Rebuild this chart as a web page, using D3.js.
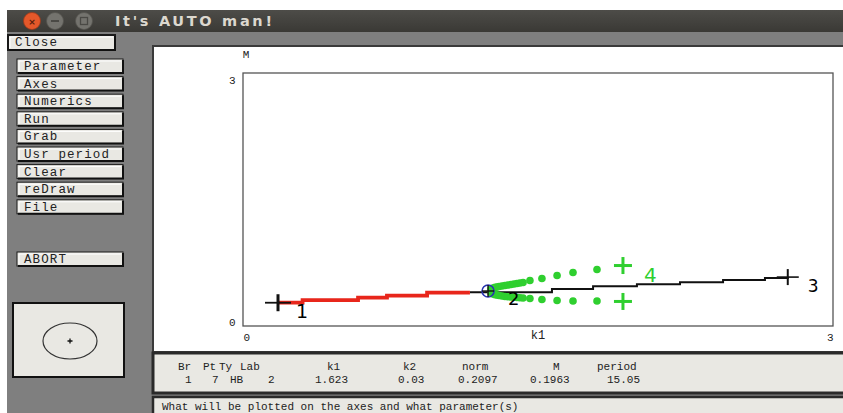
<!DOCTYPE html>
<html><head><meta charset="utf-8">
<script src="https://cdn.jsdelivr.net/npm/d3@7"></script>
<style>body{margin:0;background:#fff;overflow:hidden} svg{display:block}</style>
</head><body><svg id="c" width="843" height="413"></svg>
<script>
// ---------- data ----------
const windowTitle = "It's AUTO man!";
const menuButtons = ["Parameter","Axes","Numerics","Run","Grab","Usr period","Clear","reDraw","File"];
const xLabel = "k1", yLabel = "M";
const xTicks = [0, 3];
const yTicks = [0, 3];
// stable steady-state branch (red), k1 vs M
const redBranch = [[0.178,0.276],[0.303,0.308],[0.585,0.336],[0.732,0.359],[0.936,0.395],[1.154,0.395]];
// unstable steady-state branch (black)
const blackBranch = [[1.154,0.40],[1.571,0.44],[1.780,0.47],[2.003,0.495],[2.222,0.52],[2.441,0.545],[2.654,0.57],[2.77,0.58]];
// periodic orbit branch (green): max and min of M
const periodicK1    = [1.262,1.271,1.282,1.292,1.302,1.317,1.332,1.347,1.363,1.378,1.393,1.408,1.424,1.459,1.520,1.597,1.678,1.800];
const periodicUpper = [0.440,0.451,0.458,0.463,0.468,0.474,0.480,0.486,0.492,0.498,0.504,0.510,0.516,0.540,0.563,0.599,0.634,0.670];
const periodicLower = [0.390,0.379,0.372,0.367,0.362,0.356,0.350,0.347,0.344,0.341,0.338,0.335,0.332,0.326,0.314,0.302,0.296,0.296];
// labelled points
const labK1 = [0.178, 1.246, 2.77, 1.932];
const labM  = [0.276, 0.415, 0.58, 0.717];
const labM2 = [null, null, null, 0.291];
const labNames = ["1","2","3","4"];
const labTypes = ["EP","HB","EP","PO"];
// info panel
const infoHeaders = ["Br","Pt","Ty","Lab","k1","k2","norm","M","period"];
const infoValues  = ["1","7","HB","2","1.623","0.03","0.2097","0.1963","15.05"];
const statusText = "What will be plotted on the axes and what parameter(s)";

// ---------- drawing ----------
const svg = d3.select("#c");
const mono = "'Liberation Mono','DejaVu Sans Mono',monospace";
const LIGHT = "#e9e8e3";

// body background
svg.append("rect").attr("x",7).attr("y",10).attr("width",836).attr("height",403).attr("fill","#7f7f7f");

// title bar
const defs = svg.append("defs");
const tg = defs.append("linearGradient").attr("id","tb").attr("x1",0).attr("x2",0).attr("y1",0).attr("y2",1);
tg.append("stop").attr("offset","0").attr("stop-color","#4d4c48");
tg.append("stop").attr("offset","1").attr("stop-color","#3a3935");
svg.append("rect").attr("x",7).attr("y",10).attr("width",836).attr("height",22).attr("fill","url(#tb)");
svg.append("circle").attr("cx",32).attr("cy",21).attr("r",8.5).attr("fill","#e5582a").attr("stroke","#9c3a1c").attr("stroke-width",0.8);
svg.append("text").attr("x",32).attr("y",24.5).attr("text-anchor","middle").attr("font-family","DejaVu Sans").attr("font-weight","bold").attr("font-size",9).attr("fill","#5a1d0a").text("×");
[55,84].forEach((cx,i)=>{
  svg.append("circle").attr("cx",cx).attr("cy",21).attr("r",8.5).attr("fill","#74736e").attr("stroke","#55544f").attr("stroke-width",0.8);
  if(i===0) svg.append("rect").attr("x",cx-4).attr("y",20).attr("width",8).attr("height",2).attr("fill","#4a4945");
  else svg.append("rect").attr("x",cx-3.5).attr("y",17.5).attr("width",7).attr("height",7).attr("fill","none").attr("stroke","#4a4945").attr("stroke-width",1.3);
});
svg.append("text").attr("x",115).attr("y",26).attr("font-family","'DejaVu Sans',sans-serif").attr("font-weight","bold")
  .attr("font-size",14.5).attr("fill","#dcd8cf").attr("textLength",157).attr("lengthAdjust","spacing").text(windowTitle);

// buttons
function button(x,y,w,h,label,thick){
  const g = svg.append("g");
  g.append("rect").attr("x",x).attr("y",y).attr("width",w).attr("height",h).attr("fill",LIGHT)
    .attr("stroke","#1a1a1a").attr("stroke-width",thick?2:1);
  g.append("path").attr("d",`M${x+1},${y+h}H${x+w}V${y+1}`).attr("fill","none").attr("stroke","#111").attr("stroke-width",2);
  g.append("path").attr("d",`M${x+2},${y+h-2}V${y+2}H${x+w-2}`).attr("fill","none").attr("stroke","#ffffff").attr("stroke-width",1);
  g.append("text").attr("x",x+7).attr("y",y+11).attr("font-family",mono).attr("font-size",12.5)
    .attr("letter-spacing",1.1).attr("fill","#222").text(label);
}
button(8,35,107,15,"Close",true);
menuButtons.forEach((b,i)=>button(17,59+i*17.6,106,14,b,false));
button(17,252,106,14,"ABORT",false);

// small picture box
svg.append("rect").attr("x",13).attr("y",303).attr("width",111).attr("height",74).attr("fill",LIGHT).attr("stroke","#111").attr("stroke-width",2);
svg.append("ellipse").attr("cx",70).attr("cy",341).attr("rx",27).attr("ry",18).attr("fill","none").attr("stroke","#333").attr("stroke-width",1.2);
svg.append("path").attr("d","M67.5,341H72.5M70,338.5V343.5").attr("stroke","#111").attr("stroke-width",1.3);

// plot window
svg.append("rect").attr("x",153).attr("y",46).attr("width",692).attr("height",306).attr("fill","#fff").attr("stroke","#3a3a3a").attr("stroke-width",2);

const x = d3.scaleLinear().domain([0,3]).range([243,833]);
const y = d3.scaleLinear().domain([0,3]).range([326,73]);

svg.append("rect").attr("x",x(0)).attr("y",y(3)).attr("width",x(3)-x(0)).attr("height",y(0)-y(3))
  .attr("fill","none").attr("stroke","#555").attr("stroke-width",1.3);

// axes (labels only)
const xa = svg.append("g").attr("transform",`translate(0,${y(0)})`)
  .call(d3.axisBottom(x).tickValues(xTicks).tickSize(0).tickFormat(d3.format("d")));
xa.select(".domain").remove();
xa.selectAll("text").attr("font-family",mono).attr("font-size",11).attr("fill","#222").attr("dy","1.1em")
  .attr("text-anchor",(d,i)=> i===0 ? "start" : "end");
const ya = svg.append("g").attr("transform",`translate(${x(0)},0)`)
  .call(d3.axisLeft(y).tickValues(yTicks).tickSize(0).tickFormat(d3.format("d")));
ya.select(".domain").remove();
ya.selectAll("text").attr("font-family",mono).attr("font-size",11).attr("fill","#222").attr("dx","-0.4em")
  .attr("dy",(d)=> d===3 ? "0.95em" : "-0.05em");
svg.append("text").attr("x",(x(0)+x(3))/2).attr("y",y(0)+13).attr("font-family",mono).attr("font-size",12)
  .attr("fill","#222").attr("text-anchor","middle").text(xLabel);
svg.append("text").attr("x",x(0)+3).attr("y",y(3)-15).attr("font-family",mono).attr("font-size",11)
  .attr("fill","#222").attr("text-anchor","middle").text(yLabel);

const step = d3.line().x(d=>x(d[0])).y(d=>y(d[1])).curve(d3.curveStepAfter);
svg.append("path").attr("d",step(blackBranch)).attr("fill","none").attr("stroke","#111").attr("stroke-width",2);
svg.append("path").attr("d",step(redBranch)).attr("fill","none").attr("stroke","#e8261b").attr("stroke-width",3.8);

// periodic orbits
const GREEN = "#2fcf2f";
const pts = periodicK1.map((k,i)=>[k,periodicUpper[i]]).concat(periodicK1.map((k,i)=>[k,periodicLower[i]]));
svg.append("g").selectAll("circle").data(pts).join("circle")
  .attr("cx",d=>x(d[0])).attr("cy",d=>y(d[1])).attr("r",3.8).attr("fill",GREEN);

function cross(px,py,hx,hy,color,wh,wv){
  svg.append("path").attr("d",`M${px-hx},${py}H${px+hx}`).attr("stroke",color).attr("stroke-width",wh);
  svg.append("path").attr("d",`M${px},${py-hy}V${py+hy}`).attr("stroke",color).attr("stroke-width",wv);
}
const labFont = "'DejaVu Sans',sans-serif";
labNames.forEach((n,i)=>{
  const px = x(labK1[i]), py = y(labM[i]);
  if(labTypes[i]==="EP"){
    if(i===0) cross(px,py,13,8.5,"#111",1.8,3);
    else cross(px,py,11,8,"#111",1.6,2);
    svg.append("text").attr("x",px+(i===0?18:20)).attr("y",py+15).attr("font-family",labFont)
      .attr("font-size",i===0?19:17).attr("fill","#000").text(n);
  } else if(labTypes[i]==="HB"){
    svg.append("circle").attr("cx",px).attr("cy",py).attr("r",6).attr("fill","none").attr("stroke","#2a35b0").attr("stroke-width",1.6);
    cross(px,py,6,6,"#111",1.4,1.4);
    svg.append("text").attr("x",px+20).attr("y",py+14).attr("font-family",labFont)
      .attr("font-size",18).attr("fill","#000").text(n);
  } else {
    const py2 = y(labM2[i]);
    cross(px,py,9,8.5,GREEN,3,3);
    cross(px,py2,9,8.5,GREEN,3,3);
    svg.append("text").attr("x",px+21).attr("y",py+16.5).attr("font-family",labFont)
      .attr("font-size",20).attr("fill",GREEN).text(n);
  }
});

// info panel
svg.append("rect").attr("x",153).attr("y",353).attr("width",692).attr("height",40).attr("fill",LIGHT).attr("stroke","#2a2a2a").attr("stroke-width",3);
const hx = [178,203,219,240,327,403,462,553,597];
const vx = [185,212,230,268,315,398,458,530,607];
svg.append("g").selectAll("text").data(infoHeaders).join("text")
  .attr("x",(d,i)=>hx[i]).attr("y",370).attr("font-family",mono).attr("font-size",11).attr("fill","#222").text(d=>d);
svg.append("g").selectAll("text").data(infoValues).join("text")
  .attr("x",(d,i)=>vx[i]).attr("y",383).attr("font-family",mono).attr("font-size",11).attr("fill","#222").text(d=>d);

// status bar
svg.append("rect").attr("x",153).attr("y",397).attr("width",692).attr("height",20).attr("fill",LIGHT).attr("stroke","#2a2a2a").attr("stroke-width",2.5);
svg.append("text").attr("x",162).attr("y",410).attr("font-family",mono).attr("font-size",11).attr("fill","#222").text(statusText);
</script></body></html>
